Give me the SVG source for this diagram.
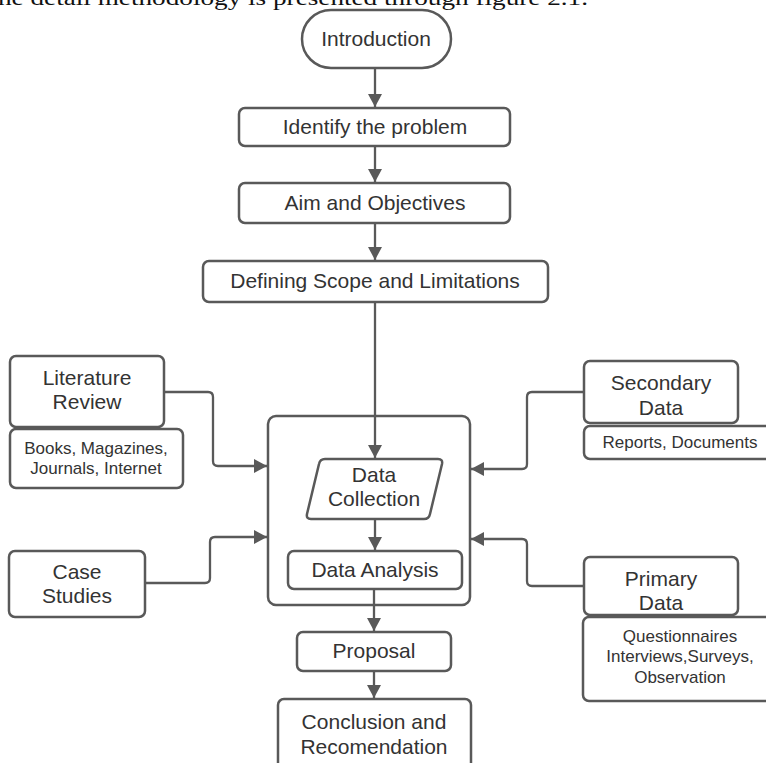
<svg xmlns="http://www.w3.org/2000/svg" width="766" height="763" viewBox="0 0 766 763">
<defs>
<style>
.b{fill:#fff;stroke:#595959;stroke-width:2.5;}
.f{fill:none;stroke:#595959;stroke-width:2.5;}
.c{fill:none;stroke:#595959;stroke-width:2.3;}
.t{font-family:"Liberation Sans",Arial,sans-serif;font-size:21px;fill:#333;text-anchor:middle;}
.s{font-family:"Liberation Sans",Arial,sans-serif;font-size:17px;fill:#333;text-anchor:middle;}
.cap{font-family:"Liberation Serif","Times New Roman",serif;font-size:22px;fill:#111;}
</style>
<marker id="ah" markerUnits="userSpaceOnUse" markerWidth="14" markerHeight="14" refX="13" refY="7" orient="auto">
<path d="M0,0 L13,7 L0,14 Z" fill="#595959"/>
</marker>
</defs>
<rect width="766" height="763" fill="#fff"/>
<text class="cap" x="-2" y="5" textLength="590" lengthAdjust="spacingAndGlyphs">he detail methodology is presented through figure 2.1.</text>

<g id="process">
<rect class="f" x="268" y="416" width="202" height="189" rx="8"/>
</g>

<g id="connectors">
<path class="c" d="M375,68 V107" marker-end="url(#ah)"/>
<path class="c" d="M375,146 V182" marker-end="url(#ah)"/>
<path class="c" d="M375,223 V260" marker-end="url(#ah)"/>
<path class="c" d="M375,302 V458" marker-end="url(#ah)"/>
<path class="c" d="M375,519 V550" marker-end="url(#ah)"/>
<path class="c" d="M374,589 V631" marker-end="url(#ah)"/>
<path class="c" d="M374,671 V698" marker-end="url(#ah)"/>
<path class="c" d="M164,392 H208 Q213,392 213,397 V461 Q213,466 218,466 H267" marker-end="url(#ah)"/>
<path class="c" d="M584,392 H532 Q527,392 527,397 V464 Q527,469 522,469 H471" marker-end="url(#ah)"/>
<path class="c" d="M145,583 H205 Q210,583 210,578 V542 Q210,537 215,537 H267" marker-end="url(#ah)"/>
<path class="c" d="M584,586 H532 Q527,586 527,581 V544 Q527,539 522,539 H471" marker-end="url(#ah)"/>
</g>

<g id="introduction">
<rect class="b" x="302" y="10" width="149" height="58" rx="29"/>
<text class="t" x="376" y="46">Introduction</text>
</g>
<g id="identify">
<rect class="b" x="239" y="108" width="271" height="38" rx="6"/>
<text class="t" x="375" y="134">Identify the problem</text>
</g>
<g id="aim">
<rect class="b" x="239" y="183" width="271" height="40" rx="6"/>
<text class="t" x="375" y="210">Aim and Objectives</text>
</g>
<g id="scope">
<rect class="b" x="203" y="261" width="345" height="41" rx="6"/>
<text class="t" x="375" y="288">Defining Scope and Limitations</text>
</g>
<g id="literature">
<rect class="b" x="10" y="356" width="154" height="71" rx="6"/>
<text class="t" x="87" y="385">Literature</text>
<text class="t" x="87" y="409">Review</text>
</g>
<g id="literature-sources">
<rect class="b" x="10" y="429" width="173" height="59" rx="6"/>
<text class="s" x="96" y="454">Books, Magazines,</text>
<text class="s" x="96" y="474">Journals, Internet</text>
</g>
<g id="secondary">
<rect class="b" x="584" y="361" width="154" height="62" rx="6"/>
<text class="t" x="661" y="390">Secondary</text>
<text class="t" x="661" y="415">Data</text>
</g>
<g id="secondary-sources">
<rect class="b" x="584" y="426" width="192" height="33" rx="6"/>
<text class="s" x="680" y="448">Reports, Documents</text>
</g>
<g id="data-collection">
<path class="b" d="M325,459 H438 Q443,459 442,464 L430,514 Q429,519 424,519 H311 Q306,519 307,514 L319,464 Q320,459 325,459 Z"/>
<text class="t" x="374" y="482">Data</text>
<text class="t" x="374" y="506">Collection</text>
</g>
<g id="data-analysis">
<rect class="b" x="288" y="551" width="174" height="38" rx="6"/>
<text class="t" x="375" y="577">Data Analysis</text>
</g>
<g id="case-studies">
<rect class="b" x="9" y="551" width="136" height="66" rx="6"/>
<text class="t" x="77" y="579">Case</text>
<text class="t" x="77" y="603">Studies</text>
</g>
<g id="primary">
<rect class="b" x="584" y="557" width="154" height="58" rx="6"/>
<text class="t" x="661" y="586">Primary</text>
<text class="t" x="661" y="610">Data</text>
</g>
<g id="primary-sources">
<rect class="b" x="583" y="617" width="193" height="84" rx="6"/>
<text class="s" x="680" y="642">Questionnaires</text>
<text class="s" x="680" y="662">Interviews,Surveys,</text>
<text class="s" x="680" y="683">Observation</text>
</g>
<g id="proposal">
<rect class="b" x="297" y="632" width="154" height="39" rx="6"/>
<text class="t" x="374" y="658">Proposal</text>
</g>
<g id="conclusion">
<rect class="b" x="278" y="699" width="193" height="80" rx="6"/>
<text class="t" x="374" y="729">Conclusion and</text>
<text class="t" x="374" y="754">Recomendation</text>
</g>
</svg>
